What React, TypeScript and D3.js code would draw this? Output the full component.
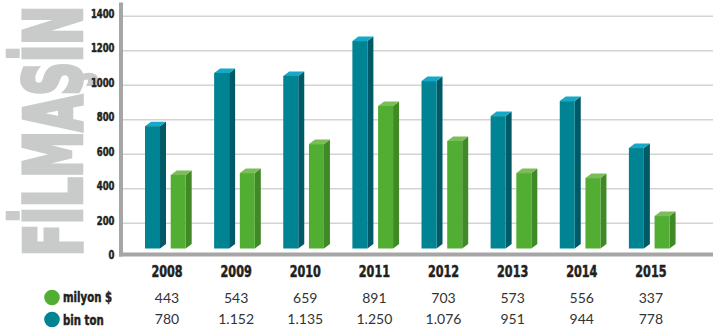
import React, { useLayoutEffect, useRef, useState } from "react";
import * as d3 from "d3";

const years = ["2008", "2009", "2010", "2011", "2012", "2013", "2014", "2015"];
// table values
const usdValues = ["443", "543", "659", "891", "703", "573", "556", "337"];
const tonValues = ["780", "1.152", "1.135", "1.250", "1.076", "951", "944", "778"];
// bar heights as drawn in the picture (read against the axis)
const tonBars = [763, 1071, 1054, 1256, 1024, 821, 908, 636];
const usdBars = [480, 491, 659, 880, 677, 491, 462, 242];
const yTicks = [0, 200, 400, 600, 800, 1000, 1200, 1400];
const titleText = "FİLMAŞİN";

const W = 713;
const H = 334;

const condensed = "'DejaVu Sans Condensed', 'Liberation Sans Narrow', sans-serif";
const plain = "Lato, 'Open Sans', sans-serif";

const BLUE = { front: "#008494", side: "#005966", top: "#14a9c6" };
const GREEN = { front: "#52ae33", side: "#3f8a27", top: "#7bbd58" };

function Bar({ x, top, bottom, w, c }: { x: number; top: number; bottom: number; w: number; c: typeof BLUE }) {
  const dx = 6;
  const dy = 4.5;
  return (
    <g>
      <polygon
        points={`${x + w},${top} ${x + w + dx},${top - dy} ${x + w + dx},${bottom - dy} ${x + w},${bottom}`}
        fill={c.side}
      />
      <polygon
        points={`${x},${top} ${x + dx},${top - dy} ${x + w + dx},${top - dy} ${x + w},${top}`}
        fill={c.top}
      />
      <rect x={x} y={top} width={w} height={bottom - top} fill={c.front} />
    </g>
  );
}

function Squeezed({
  cx,
  y,
  sx,
  anchor,
  size,
  children,
}: {
  cx: number;
  y: number;
  sx: number;
  anchor: "start" | "middle" | "end";
  size: number;
  children: React.ReactNode;
}) {
  return (
    <text
      transform={`translate(${cx},${y}) scale(${sx},1)`}
      textAnchor={anchor}
      fontFamily={condensed}
      fontWeight="bold"
      fontSize={size}
      fill="#231f20"
      stroke="#231f20"
      strokeWidth={0.5}
    >
      {children}
    </text>
  );
}

export default function App() {
  const y = d3.scaleLinear().domain([0, 1400]).range([257.8, 16.2]);
  const x = d3.scaleBand<string>().domain(years).range([134, 687]).padding(0);
  const barW = 15;
  const baseline = 248.5;

  const titleRef = useRef<SVGTextElement>(null);
  const [titleScale, setTitleScale] = useState(0.57);
  useLayoutEffect(() => {
    if (titleRef.current) {
      const len = titleRef.current.getComputedTextLength();
      if (len > 0) setTitleScale(250 / len);
    }
  }, []);

  return (
    <div style={{ position: "absolute", left: 0, top: 0 }}>
      <svg width={W} height={H} style={{ display: "block", background: "#fff" }}>
        {/* big rotated title */}
        <text
          ref={titleRef}
          transform={`translate(81,256) rotate(-90) scale(${titleScale},1)`}
          fontFamily={condensed}
          fontWeight="bold"
          fontSize={78}
          fill="#c9caca"
          stroke="#c9caca"
          strokeWidth={4.5}
          strokeLinejoin="miter"
        >
          {titleText}
        </text>

        {/* gridlines */}
        {yTicks.filter((t) => t > 0).map((t) => (
          <line key={t} x1={123} x2={W} y1={y(t)} y2={y(t)} stroke="#d3d3d3" strokeWidth={1.4} />
        ))}

        {/* tick labels */}
        {yTicks.map((t) => (
          <Squeezed key={t} cx={114.5} y={y(t) + 1.5} sx={0.82} anchor="end" size={11.5}>
            {t}
          </Squeezed>
        ))}

        {/* bars */}
        {years.map((yr, i) => {
          const bx = (x(yr) as number) + 11;
          return (
            <g key={yr}>
              <Bar x={bx} top={y(tonBars[i])} bottom={baseline} w={barW} c={BLUE} />
              <Bar x={bx + 25.7} top={y(usdBars[i])} bottom={baseline} w={barW} c={GREEN} />
            </g>
          );
        })}

        {/* axes */}
        <rect x={119} y={2.5} width={4} height={254} fill="#a6a6a6" />
        <rect x={119} y={252.5} width={W - 119} height={4} fill="#a6a6a6" />

        {/* year labels */}
        {years.map((yr) => (
          <Squeezed key={yr} cx={(x(yr) as number) + 33} y={276.7} sx={0.78} anchor="middle" size={16}>
            {yr}
          </Squeezed>
        ))}

        {/* legend rows */}
        <circle cx={52} cy={297.5} r={7.8} fill="#52ae33" />
        <circle cx={52} cy={319.5} r={7.8} fill="#008494" />
        <Squeezed cx={63} y={302} sx={0.78} anchor="start" size={14.5}>
          milyon $
        </Squeezed>
        <Squeezed cx={63} y={325} sx={0.78} anchor="start" size={14.5}>
          bin ton
        </Squeezed>

        {years.map((yr, i) => (
          <g key={yr}>
            <text
              x={(x(yr) as number) + 33}
              y={302.7}
              textAnchor="middle"
              fontFamily={plain}
              fontSize={14}
              fill="#333"
            >
              {usdValues[i]}
            </text>
            <text
              x={(x(yr) as number) + 33}
              y={324}
              textAnchor="middle"
              fontFamily={plain}
              fontSize={14}
              fill="#333"
            >
              {tonValues[i]}
            </text>
          </g>
        ))}
      </svg>
    </div>
  );
}
